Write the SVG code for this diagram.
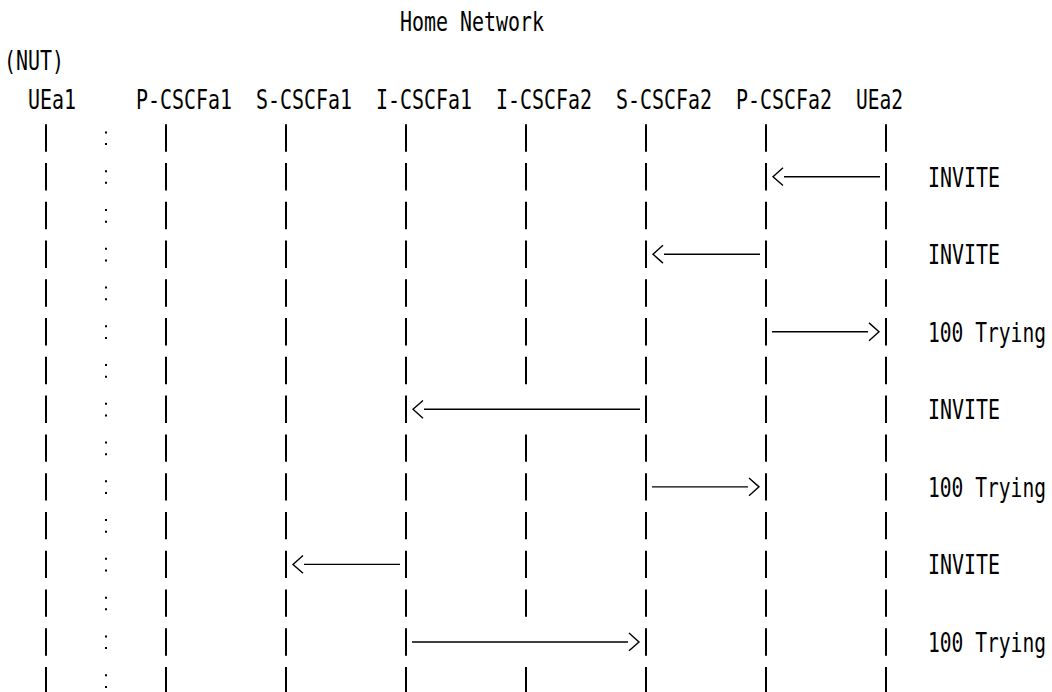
<svg xmlns="http://www.w3.org/2000/svg" width="1052" height="692" viewBox="0 0 1052 692">
<style>
text{font-family:"DejaVu Sans Mono","Liberation Mono",monospace;font-size:26.7px;fill:#000}
.life{stroke:#000;stroke-width:2;fill:none;stroke-dasharray:27.4 11.37}
.seg{stroke:#000;stroke-width:2;fill:none}
.dots{stroke:#000;stroke-width:2;stroke-dasharray:2 9.7 2 25.07}
.msg{stroke:#000;stroke-width:1.4;fill:none;marker-end:url(#chev)}
</style>
<defs>
<marker id="chev" markerUnits="userSpaceOnUse" orient="auto" refX="0" refY="0" markerWidth="14" markerHeight="20" viewBox="-2 -10 14 20" overflow="visible">
<path d="M1,-8.9 L11,0 L1,8.9" fill="none" stroke="#000" stroke-width="1.4"/>
</marker>
</defs>
<rect width="1052" height="692" fill="#fff"/>
<text x="400" y="31" textLength="144" lengthAdjust="spacingAndGlyphs">Home Network</text>
<text x="4" y="70.4" textLength="60" lengthAdjust="spacingAndGlyphs">(NUT)</text>
<g id="boundary"><line class="dots" x1="106" y1="131.4" x2="106" y2="700"/></g>
<g id="UEa1"><text x="28" y="109.2" textLength="48" lengthAdjust="spacingAndGlyphs">UEa1</text><line class="life" x1="46" y1="124.23" x2="46" y2="700"/></g>
<g id="P-CSCFa1"><text x="136" y="109.2" textLength="96" lengthAdjust="spacingAndGlyphs">P-CSCFa1</text><line class="life" x1="166" y1="124.23" x2="166" y2="700"/></g>
<g id="S-CSCFa1"><text x="256" y="109.2" textLength="96" lengthAdjust="spacingAndGlyphs">S-CSCFa1</text><line class="life" x1="286" y1="124.23" x2="286" y2="700"/></g>
<g id="I-CSCFa1"><text x="376" y="109.2" textLength="96" lengthAdjust="spacingAndGlyphs">I-CSCFa1</text><line class="life" x1="406" y1="124.23" x2="406" y2="700"/></g>
<g id="I-CSCFa2"><text x="496" y="109.2" textLength="96" lengthAdjust="spacingAndGlyphs">I-CSCFa2</text><path class="seg" d="M526 124.23v27.4M526 163v27.4M526 201.77v27.4M526 240.54v27.4M526 279.31v27.4M526 318.08v27.4M526 356.85v27.4M526 434.39v27.4M526 473.16v27.4M526 511.93v27.4M526 550.7v27.4M526 589.47v27.4M526 667.01v27.4"/></g>
<g id="S-CSCFa2"><text x="616" y="109.2" textLength="96" lengthAdjust="spacingAndGlyphs">S-CSCFa2</text><line class="life" x1="646" y1="124.23" x2="646" y2="700"/></g>
<g id="P-CSCFa2"><text x="736" y="109.2" textLength="96" lengthAdjust="spacingAndGlyphs">P-CSCFa2</text><line class="life" x1="766" y1="124.23" x2="766" y2="700"/></g>
<g id="UEa2"><text x="856" y="109.2" textLength="47" lengthAdjust="spacingAndGlyphs">UEa2</text><line class="life" x1="886" y1="124.23" x2="886" y2="700"/></g>
<g id="connectors">
<line class="msg" x1="880" y1="176.7" x2="784" y2="176.7"/>
<line class="msg" x1="760" y1="254.24" x2="664" y2="254.24"/>
<line class="msg" x1="772" y1="331.78" x2="868" y2="331.78"/>
<line class="msg" x1="640" y1="409.32" x2="424" y2="409.32"/>
<line class="msg" x1="652" y1="486.86" x2="748" y2="486.86"/>
<line class="msg" x1="400" y1="564.4" x2="304" y2="564.4"/>
<line class="msg" x1="412" y1="641.94" x2="628" y2="641.94"/>
<text x="928" y="186.7" textLength="72" lengthAdjust="spacingAndGlyphs">INVITE</text>
<text x="928" y="264.24" textLength="72" lengthAdjust="spacingAndGlyphs">INVITE</text>
<text x="928" y="341.78" textLength="118" lengthAdjust="spacingAndGlyphs">100 Trying</text>
<text x="928" y="419.32" textLength="72" lengthAdjust="spacingAndGlyphs">INVITE</text>
<text x="928" y="496.86" textLength="118" lengthAdjust="spacingAndGlyphs">100 Trying</text>
<text x="928" y="574.4" textLength="72" lengthAdjust="spacingAndGlyphs">INVITE</text>
<text x="928" y="651.94" textLength="118" lengthAdjust="spacingAndGlyphs">100 Trying</text>
</g>
</svg>
